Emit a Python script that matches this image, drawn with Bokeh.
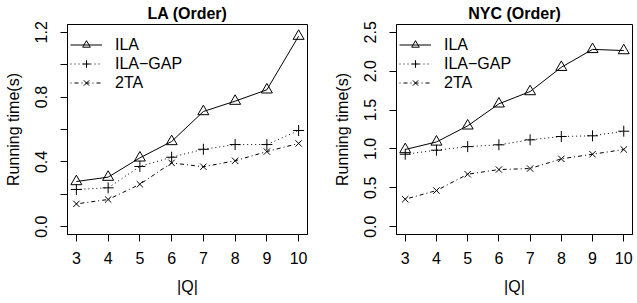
from bokeh.plotting import figure
from bokeh.layouts import row
from bokeh.models import FixedTicker, Legend, LegendItem, Title
from bokeh.embed import file_html
from bokeh.resources import INLINE

Q = [3, 4, 5, 6, 7, 8, 9, 10]

la_ila = [0.279, 0.306, 0.425, 0.526, 0.711, 0.775, 0.845, 1.176]
la_gap = [0.230, 0.240, 0.372, 0.429, 0.478, 0.507, 0.507, 0.594]
la_2ta = [0.141, 0.168, 0.262, 0.394, 0.370, 0.407, 0.464, 0.514]

nyc_ila = [0.993, 1.090, 1.297, 1.580, 1.738, 2.050, 2.280, 2.265]
nyc_gap = [0.932, 0.984, 1.030, 1.053, 1.117, 1.160, 1.169, 1.228]
nyc_2ta = [0.354, 0.465, 0.675, 0.735, 0.748, 0.873, 0.932, 0.993]

la_yticks = [0.0, 0.2, 0.4, 0.6, 0.8, 1.0, 1.2]
la_ylabels = {0.2: "", 0.6: "", 1.0: "", 0: "0.0", 0.4: "0.4", 0.8: "0.8", 1.2: "1.2"}
nyc_yticks = [0.0, 0.5, 1.0, 1.5, 2.0, 2.5]
nyc_ylabels = {0: "0.0", 0.5: "0.5", 1: "1.0", 1.5: "1.5", 2: "2.0", 2.5: "2.5"}

series_names = ["ILA", "ILA\u2212GAP", "2TA"]

FONT = "Liberation Sans"


def panel(title, ila, gap, ta, ymax, yticks, ylabels, width, mbl, mbr):
    pad = 0.04 * ymax
    t = Title(text=title, align="center", text_font=FONT, text_font_size="16px",
              text_font_style="bold", text_color="black", standoff=5)
    p = figure(width=width, height=303, output_backend="svg", toolbar_location=None,
               x_range=(2.72, 10.28), y_range=(-pad, ymax + pad),
               min_border_left=mbl, min_border_right=mbr,
               min_border_top=24, min_border_bottom=69, title=t)
    p.grid.visible = False
    p.outline_line_color = "black"
    p.outline_line_width = 1
    p.outline_line_alpha = 1
    p.background_fill_color = "white"
    p.border_fill_color = "white"

    for ax in (p.xaxis[0], p.yaxis[0]):
        ax.axis_line_color = "black"
        ax.major_tick_line_color = "black"
        ax.major_tick_out = 7
        ax.major_tick_in = 0
        ax.minor_tick_line_color = None
        ax.major_label_text_font = FONT
        ax.major_label_text_font_size = "16px"
        ax.major_label_text_color = "black"
        ax.axis_label_text_font = FONT
        ax.axis_label_text_font_size = "16px"
        ax.axis_label_text_font_style = "normal"
        ax.axis_label_text_color = "black"

    p.xaxis.ticker = FixedTicker(ticks=Q)
    p.xaxis.axis_label = "|Q|"
    p.xaxis.major_label_standoff = 10
    p.xaxis.axis_label_standoff = 11

    p.yaxis.ticker = FixedTicker(ticks=yticks)
    p.yaxis.major_label_overrides = ylabels
    p.yaxis.major_label_orientation = "vertical"
    p.yaxis.axis_label = "Running time(s)"
    p.yaxis.major_label_standoff = 13
    p.yaxis.axis_label_standoff = 11

    l1 = p.line(Q, ila, line_color="black", line_width=1)
    m1 = p.scatter(Q, ila, marker="triangle", size=11, line_color="black",
                   fill_alpha=0, line_width=1)
    l2 = p.line(Q, gap, line_color="black", line_width=1, line_dash="1 3")
    m2 = p.scatter(Q, gap, marker="cross", size=11, line_color="black", line_width=1)
    l3 = p.line(Q, ta, line_color="black", line_width=1, line_dash="1 3 4 3")
    m3 = p.scatter(Q, ta, marker="x", size=9, line_color="black", line_width=1)

    legend = Legend(items=[
        LegendItem(label=series_names[0], renderers=[l1, m1]),
        LegendItem(label=series_names[1], renderers=[l2, m2]),
        LegendItem(label=series_names[2], renderers=[l3, m3]),
    ], location=(3, 142), orientation="vertical")
    legend.border_line_alpha = 0
    legend.background_fill_alpha = 0
    legend.margin = 0
    legend.padding = 0
    legend.spacing = 0
    legend.glyph_width = 32
    legend.glyph_height = 19
    legend.label_height = 19
    legend.label_standoff = 13
    legend.label_text_font = FONT
    legend.label_text_font_size = "16px"
    legend.label_text_color = "black"
    legend.label_text_baseline = "middle"
    p.add_layout(legend, "center")
    return p


p1 = panel("LA (Order)", la_ila, la_gap, la_2ta, 1.2, la_yticks, la_ylabels, 327, 67, 20)
p2 = panel("NYC (Order)", nyc_ila, nyc_gap, nyc_2ta, 2.5, nyc_yticks, nyc_ylabels, 310, 69, 5)

layout = row(p1, p2)
open("out.html", "w").write(file_html(layout, INLINE))
